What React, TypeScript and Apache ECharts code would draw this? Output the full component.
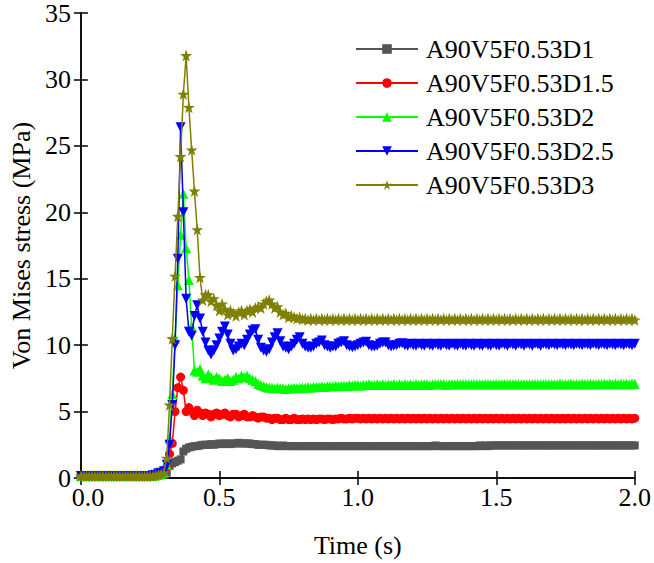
import React, { useEffect, useRef } from "react";
import * as echarts from "echarts";

// Sampling interval of the simulation output (s)
const TIME_STEP = 0.01;

const SERIES_NAMES = [
  "A90V5F0.53D1",
  "A90V5F0.53D1.5",
  "A90V5F0.53D2",
  "A90V5F0.53D2.5",
  "A90V5F0.53D3",
];

// Von Mises stress (MPa), one value per time step, 0 s .. 2 s
const stressD1 = [
  0.15, 0.15, 0.15, 0.15, 0.15, 0.15, 0.15, 0.15, 0.15, 0.15,
  0.15, 0.15, 0.15, 0.15, 0.15, 0.15, 0.15, 0.15, 0.15, 0.15,
  0.15, 0.15, 0.15, 0.15, 0.15, 0.15, 0.15, 0.2, 0.25, 0.3,
  0.35, 0.4, 0.9, 1.1, 1.2, 1.3, 1.4, 2.0, 2.2, 2.3,
  2.35, 2.4, 2.4, 2.45, 2.5, 2.5, 2.5, 2.55, 2.5, 2.55,
  2.6, 2.55, 2.6, 2.6, 2.55, 2.6, 2.6, 2.65, 2.6, 2.6,
  2.6, 2.6, 2.55, 2.55, 2.5, 2.5, 2.5, 2.5, 2.45, 2.45,
  2.45, 2.4, 2.4, 2.45, 2.4, 2.4, 2.4, 2.4, 2.4, 2.4,
  2.4, 2.4, 2.4, 2.4, 2.4, 2.4, 2.4, 2.4, 2.4, 2.4,
  2.4, 2.4, 2.4, 2.4, 2.4, 2.4, 2.4, 2.4, 2.4, 2.4,
  2.4, 2.4, 2.4, 2.4, 2.4, 2.4, 2.4, 2.4, 2.4, 2.4,
  2.4, 2.4, 2.4, 2.4, 2.4, 2.4, 2.4, 2.4, 2.4, 2.4,
  2.4, 2.4, 2.4, 2.4, 2.4, 2.4, 2.4, 2.4, 2.45, 2.4,
  2.4, 2.4, 2.4, 2.4, 2.4, 2.4, 2.4, 2.4, 2.4, 2.4,
  2.4, 2.4, 2.4, 2.4, 2.45, 2.4, 2.45, 2.4, 2.45, 2.45,
  2.45, 2.45, 2.45, 2.45, 2.45, 2.45, 2.45, 2.45, 2.45, 2.45,
  2.45, 2.45, 2.45, 2.45, 2.45, 2.45, 2.45, 2.45, 2.45, 2.45,
  2.45, 2.45, 2.45, 2.45, 2.45, 2.45, 2.45, 2.45, 2.45, 2.45,
  2.45, 2.45, 2.45, 2.45, 2.45, 2.45, 2.45, 2.45, 2.45, 2.45,
  2.45, 2.45, 2.45, 2.45, 2.45, 2.45, 2.45, 2.45, 2.45, 2.45,
  2.45,
];

const stressD15 = [
  0.15, 0.15, 0.15, 0.15, 0.15, 0.15, 0.15, 0.15, 0.15, 0.15,
  0.15, 0.15, 0.15, 0.15, 0.15, 0.15, 0.15, 0.15, 0.15, 0.15,
  0.15, 0.15, 0.15, 0.15, 0.15, 0.15, 0.15, 0.2, 0.25, 0.3,
  0.4, 0.8, 1.8, 2.6, 5.0, 6.8, 7.6, 6.6, 5.0, 5.3,
  5.0, 4.7, 5.1, 4.9, 4.7, 4.9, 4.8, 4.6, 4.8, 4.9,
  4.7, 4.8, 4.9, 4.7, 4.6, 4.8, 4.8, 4.6, 4.7, 4.8,
  4.6, 4.6, 4.7, 4.6, 4.5, 4.6, 4.6, 4.5, 4.5, 4.4,
  4.5, 4.5, 4.4, 4.4, 4.5, 4.4, 4.4, 4.5, 4.4, 4.4,
  4.45, 4.4, 4.45, 4.4, 4.45, 4.4, 4.45, 4.45, 4.4, 4.45,
  4.45, 4.4, 4.45, 4.45, 4.5, 4.45, 4.45, 4.5, 4.45, 4.5,
  4.5, 4.45, 4.5, 4.45, 4.5, 4.45, 4.5, 4.45, 4.5, 4.45,
  4.5, 4.45, 4.5, 4.45, 4.5, 4.45, 4.5, 4.45, 4.5, 4.45,
  4.5, 4.45, 4.5, 4.45, 4.5, 4.45, 4.5, 4.45, 4.5, 4.45,
  4.5, 4.45, 4.5, 4.45, 4.5, 4.45, 4.5, 4.45, 4.5, 4.45,
  4.5, 4.45, 4.5, 4.45, 4.5, 4.45, 4.5, 4.45, 4.5, 4.45,
  4.5, 4.45, 4.5, 4.45, 4.5, 4.45, 4.5, 4.45, 4.5, 4.45,
  4.5, 4.45, 4.5, 4.45, 4.5, 4.45, 4.5, 4.45, 4.5, 4.45,
  4.5, 4.45, 4.5, 4.45, 4.5, 4.45, 4.5, 4.45, 4.5, 4.45,
  4.5, 4.45, 4.5, 4.45, 4.5, 4.45, 4.5, 4.45, 4.5, 4.45,
  4.5, 4.45, 4.5, 4.45, 4.5, 4.45, 4.5, 4.45, 4.5, 4.45,
  4.5,
];

const stressD2 = [
  0.15, 0.15, 0.15, 0.15, 0.15, 0.15, 0.15, 0.15, 0.15, 0.15,
  0.15, 0.15, 0.15, 0.15, 0.15, 0.15, 0.15, 0.15, 0.15, 0.15,
  0.15, 0.15, 0.15, 0.15, 0.15, 0.15, 0.15, 0.2, 0.25, 0.3,
  0.4, 1.0, 3.0, 6.3, 10.5, 14.5, 18.3, 21.4, 17.3, 14.9,
  11.4, 8.1, 8.0, 8.2, 7.7, 7.5, 7.8, 7.6, 7.4, 7.6,
  7.5, 7.3, 7.4, 7.5, 7.3, 7.4, 7.6, 7.5, 7.7, 7.6,
  7.7, 7.5, 7.4, 7.3, 7.1, 7.0, 6.9, 6.85, 6.8, 6.8,
  6.75, 6.8, 6.75, 6.75, 6.7, 6.75, 6.75, 6.8, 6.75, 6.8,
  6.8, 6.8, 6.85, 6.8, 6.85, 6.85, 6.85, 6.9, 6.85, 6.9,
  6.9, 6.9, 6.95, 6.9, 6.95, 6.95, 6.95, 7.0, 6.95, 7.0,
  7.0, 6.95, 7.0, 7.0, 7.05, 7.0, 7.0, 7.05, 7.0, 7.05,
  7.0, 7.05, 7.0, 7.05, 7.0, 7.05, 7.0, 7.05, 7.0, 7.05,
  7.0, 7.05, 7.0, 7.05, 7.05, 7.05, 7.0, 7.05, 7.05, 7.05,
  7.05, 7.05, 7.0, 7.05, 7.05, 7.05, 7.05, 7.05, 7.05, 7.05,
  7.05, 7.05, 7.05, 7.05, 7.05, 7.05, 7.05, 7.05, 7.05, 7.05,
  7.05, 7.05, 7.05, 7.05, 7.05, 7.05, 7.05, 7.05, 7.05, 7.05,
  7.05, 7.05, 7.05, 7.05, 7.05, 7.05, 7.05, 7.05, 7.05, 7.05,
  7.05, 7.05, 7.05, 7.1, 7.05, 7.05, 7.05, 7.1, 7.05, 7.05,
  7.05, 7.1, 7.05, 7.05, 7.1, 7.05, 7.05, 7.1, 7.05, 7.1,
  7.05, 7.1, 7.05, 7.1, 7.05, 7.1, 7.05, 7.1, 7.05, 7.1,
  7.1,
];

const stressD25 = [
  0.15, 0.15, 0.15, 0.15, 0.15, 0.15, 0.15, 0.15, 0.15, 0.15,
  0.15, 0.15, 0.15, 0.15, 0.15, 0.15, 0.15, 0.15, 0.15, 0.15,
  0.15, 0.15, 0.15, 0.15, 0.15, 0.15, 0.2, 0.25, 0.35, 0.4,
  0.5, 1.0, 2.5, 5.5, 10.0, 16.5, 26.4, 20.0, 13.5, 11.0,
  10.7, 12.2, 13.0, 12.0, 11.0, 10.2, 9.6, 9.3, 9.6, 10.0,
  10.5, 11.0, 11.4, 10.8, 10.1, 9.6, 9.7, 9.9, 10.1, 10.0,
  10.4, 10.8, 11.1, 11.2, 10.4, 9.8, 9.6, 9.5, 9.7, 10.2,
  10.6, 10.9, 10.3, 9.9, 9.8, 9.7, 9.9, 10.1, 10.4, 10.6,
  10.1, 9.9, 9.8, 9.8, 9.9, 10.1, 10.2, 10.35, 10.0, 9.9,
  9.8, 9.9, 9.9, 10.1, 10.2, 10.3, 10.0, 9.9, 9.85, 9.9,
  10.0, 10.1, 10.2, 10.25, 10.0, 9.9, 9.9, 9.95, 10.1, 10.2,
  10.2, 10.0, 9.9, 9.95, 10.0, 10.1, 10.15, 10.0, 9.95, 10.1,
  10.0, 9.95, 10.1, 10.0, 9.95, 10.1, 10.0, 9.95, 10.1, 10.0,
  9.95, 10.1, 10.0, 9.95, 10.1, 10.0, 9.95, 10.1, 10.0, 9.95,
  10.1, 10.0, 9.95, 10.1, 10.0, 9.95, 10.1, 10.0, 9.95, 10.1,
  10.0, 9.95, 10.1, 10.05, 9.95, 10.1, 10.05, 9.95, 10.1, 10.05,
  9.95, 10.1, 10.05, 9.95, 10.1, 10.05, 9.95, 10.1, 10.05, 10.0,
  10.1, 10.05, 10.0, 10.1, 10.05, 10.0, 10.1, 10.05, 10.0, 10.1,
  10.05, 10.0, 10.1, 10.05, 10.0, 10.1, 10.05, 10.0, 10.1, 10.05,
  10.0, 10.1, 10.05, 10.0, 10.1, 10.05, 10.0, 10.1, 10.05, 10.0,
  10.1,
];

const stressD3 = [
  0.15, 0.15, 0.15, 0.15, 0.15, 0.15, 0.15, 0.15, 0.15, 0.15,
  0.15, 0.15, 0.15, 0.15, 0.15, 0.15, 0.15, 0.15, 0.15, 0.15,
  0.15, 0.15, 0.15, 0.15, 0.15, 0.15, 0.15, 0.2, 0.25, 0.3,
  0.4, 1.5, 5.5, 10.5, 15.2, 19.7, 24.2, 28.9, 31.8, 27.9,
  24.7, 21.6, 18.7, 15.1, 13.4, 13.8, 13.8, 13.3, 13.5, 13.0,
  12.6, 13.1, 12.7, 12.3, 12.6, 12.4, 12.2, 12.5, 12.6, 12.3,
  12.6, 12.7, 12.5, 12.8, 12.9, 12.8, 13.1, 13.3, 13.4, 13.1,
  12.8, 12.9, 12.5, 12.3, 12.4, 12.1, 12.2, 12.1, 12.0, 12.1,
  11.95, 12.0, 11.9, 12.0, 11.9, 12.0, 11.9, 12.0, 11.9, 12.0,
  11.9, 12.0, 11.9, 12.0, 11.9, 12.0, 11.9, 12.0, 11.9, 12.0,
  11.9, 12.0, 11.9, 12.0, 11.9, 12.0, 11.9, 12.0, 11.9, 12.0,
  11.9, 12.0, 11.9, 12.0, 11.9, 12.0, 11.9, 12.0, 11.9, 12.0,
  11.9, 12.0, 11.9, 12.0, 11.9, 12.0, 11.9, 12.0, 11.9, 12.0,
  11.9, 12.0, 11.9, 12.0, 11.9, 12.0, 11.9, 12.0, 11.9, 12.0,
  11.9, 12.0, 11.9, 12.0, 11.9, 12.0, 11.9, 12.0, 11.9, 12.0,
  11.9, 12.0, 11.9, 12.0, 11.9, 12.0, 11.9, 12.0, 11.9, 12.0,
  11.9, 12.0, 11.9, 12.0, 11.9, 12.0, 11.9, 12.0, 11.9, 12.0,
  11.9, 12.0, 11.9, 12.0, 11.9, 12.0, 11.9, 12.0, 11.9, 12.0,
  11.9, 12.0, 11.9, 12.0, 11.9, 12.0, 11.9, 12.0, 11.9, 12.0,
  11.9, 12.0, 11.9, 12.0, 11.9, 12.0, 11.9, 12.0, 11.9, 12.0,
  11.9,
];

const X_TICKS = [0, 0.5, 1.0, 1.5, 2.0];
const Y_TICKS = [0, 5, 10, 15, 20, 25, 30, 35];

const COLORS = ["#555555", "#ff0000", "#00ff00", "#0000ff", "#808000"];

const STAR =
  "path://M50,0 L61.8,35.4 L98.9,35.4 L68.9,57.3 L80.3,92.7 L50,70.8 L19.7,92.7 L31.1,57.3 L1.1,35.4 L38.2,35.4 Z";

const FONT = "'Liberation Serif', 'Times New Roman', serif";
const FONT_SIZE = 26;

const withTime = (values: number[]) =>
  values.map((v, i) => [Number((i * TIME_STEP).toFixed(2)), v]);

export default function App() {
  const ref = useRef<HTMLDivElement>(null);

  useEffect(() => {
    if (!ref.current) return;
    const chart = echarts.init(ref.current, null, { renderer: "svg" });

    const all = [stressD1, stressD15, stressD2, stressD25, stressD3];
    const symbols = ["rect", "circle", "triangle", "triangle", STAR];
    const sizes = [8, 9, 10, 10, 12];
    const rotates = [0, 0, 0, 180, 0];

    const axisLine = { show: true, lineStyle: { color: "#000", width: 1.5 } };
    const tickIn = {
      show: true,
      inside: true,
      length: 7,
      lineStyle: { color: "#000", width: 1.5 },
    };
    const labelStyle = { color: "#000", fontFamily: FONT, fontSize: FONT_SIZE };

    chart.setOption({
      animation: false,
      backgroundColor: "#fff",
      grid: { left: 68, right: 18, top: 13, bottom: 83, containLabel: false },
      legend: {
        orient: "vertical",
        left: 350,
        top: 31,
        itemWidth: 62,
        itemHeight: 12,
        itemGap: 8,
        textStyle: {
          color: "#000",
          fontFamily: FONT,
          fontSize: FONT_SIZE,
          lineHeight: 26,
          padding: [0, 0, 0, 3],
        },
        data: SERIES_NAMES,
      },
      xAxis: [
        {
          type: "value",
          min: X_TICKS[0],
          max: X_TICKS[X_TICKS.length - 1],
          interval: 0.5,
          name: "Time (s)",
          nameLocation: "middle",
          nameGap: 54,
          nameTextStyle: labelStyle,
          axisLine,
          axisTick: tickIn,
          axisLabel: {
            ...labelStyle,
            margin: 9,
            lineHeight: 20,
            // the origin label is nudged right so it clears the y-axis "0"
            formatter: (v: number) =>
              v === 0 ? `{origin|${v.toFixed(1)}}` : v.toFixed(1),
            rich: {
              origin: { ...labelStyle, lineHeight: 20, padding: [0, 0, 0, 14] },
            },
          },
          splitLine: { show: false },
        },
        {
          type: "value",
          position: "top",
          min: X_TICKS[0],
          max: X_TICKS[X_TICKS.length - 1],
          interval: 0.5,
          axisLine,
          axisTick: tickIn,
          axisLabel: { show: false },
          splitLine: { show: false },
        },
      ],
      yAxis: [
        {
          type: "value",
          min: Y_TICKS[0],
          max: Y_TICKS[Y_TICKS.length - 1],
          interval: 5,
          name: "Von Mises stress (MPa)",
          nameLocation: "middle",
          nameGap: 32,
          nameTextStyle: labelStyle,
          axisLine,
          axisTick: tickIn,
          axisLabel: { ...labelStyle, margin: 10, lineHeight: 18 },
          splitLine: { show: false },
        },
        {
          type: "value",
          position: "right",
          min: Y_TICKS[0],
          max: Y_TICKS[Y_TICKS.length - 1],
          interval: 5,
          axisLine,
          axisTick: tickIn,
          axisLabel: { show: false },
          splitLine: { show: false },
        },
      ],
      series: all.map((vals, k) => ({
        name: SERIES_NAMES[k],
        type: "line",
        xAxisIndex: 0,
        yAxisIndex: 0,
        data: withTime(vals),
        symbol: symbols[k],
        symbolSize: sizes[k],
        symbolRotate: rotates[k],
        showAllSymbol: true,
        color: COLORS[k],
        lineStyle: { color: COLORS[k], width: 1.5 },
        itemStyle: { color: COLORS[k], borderWidth: 0 },
        emphasis: { disabled: true },
        z: 2 + k,
      })),
    });

    return () => chart.dispose();
  }, []);

  return (
    <div
      ref={ref}
      style={{ position: "fixed", left: 0, top: 0, width: 654, height: 563 }}
    />
  );
}
